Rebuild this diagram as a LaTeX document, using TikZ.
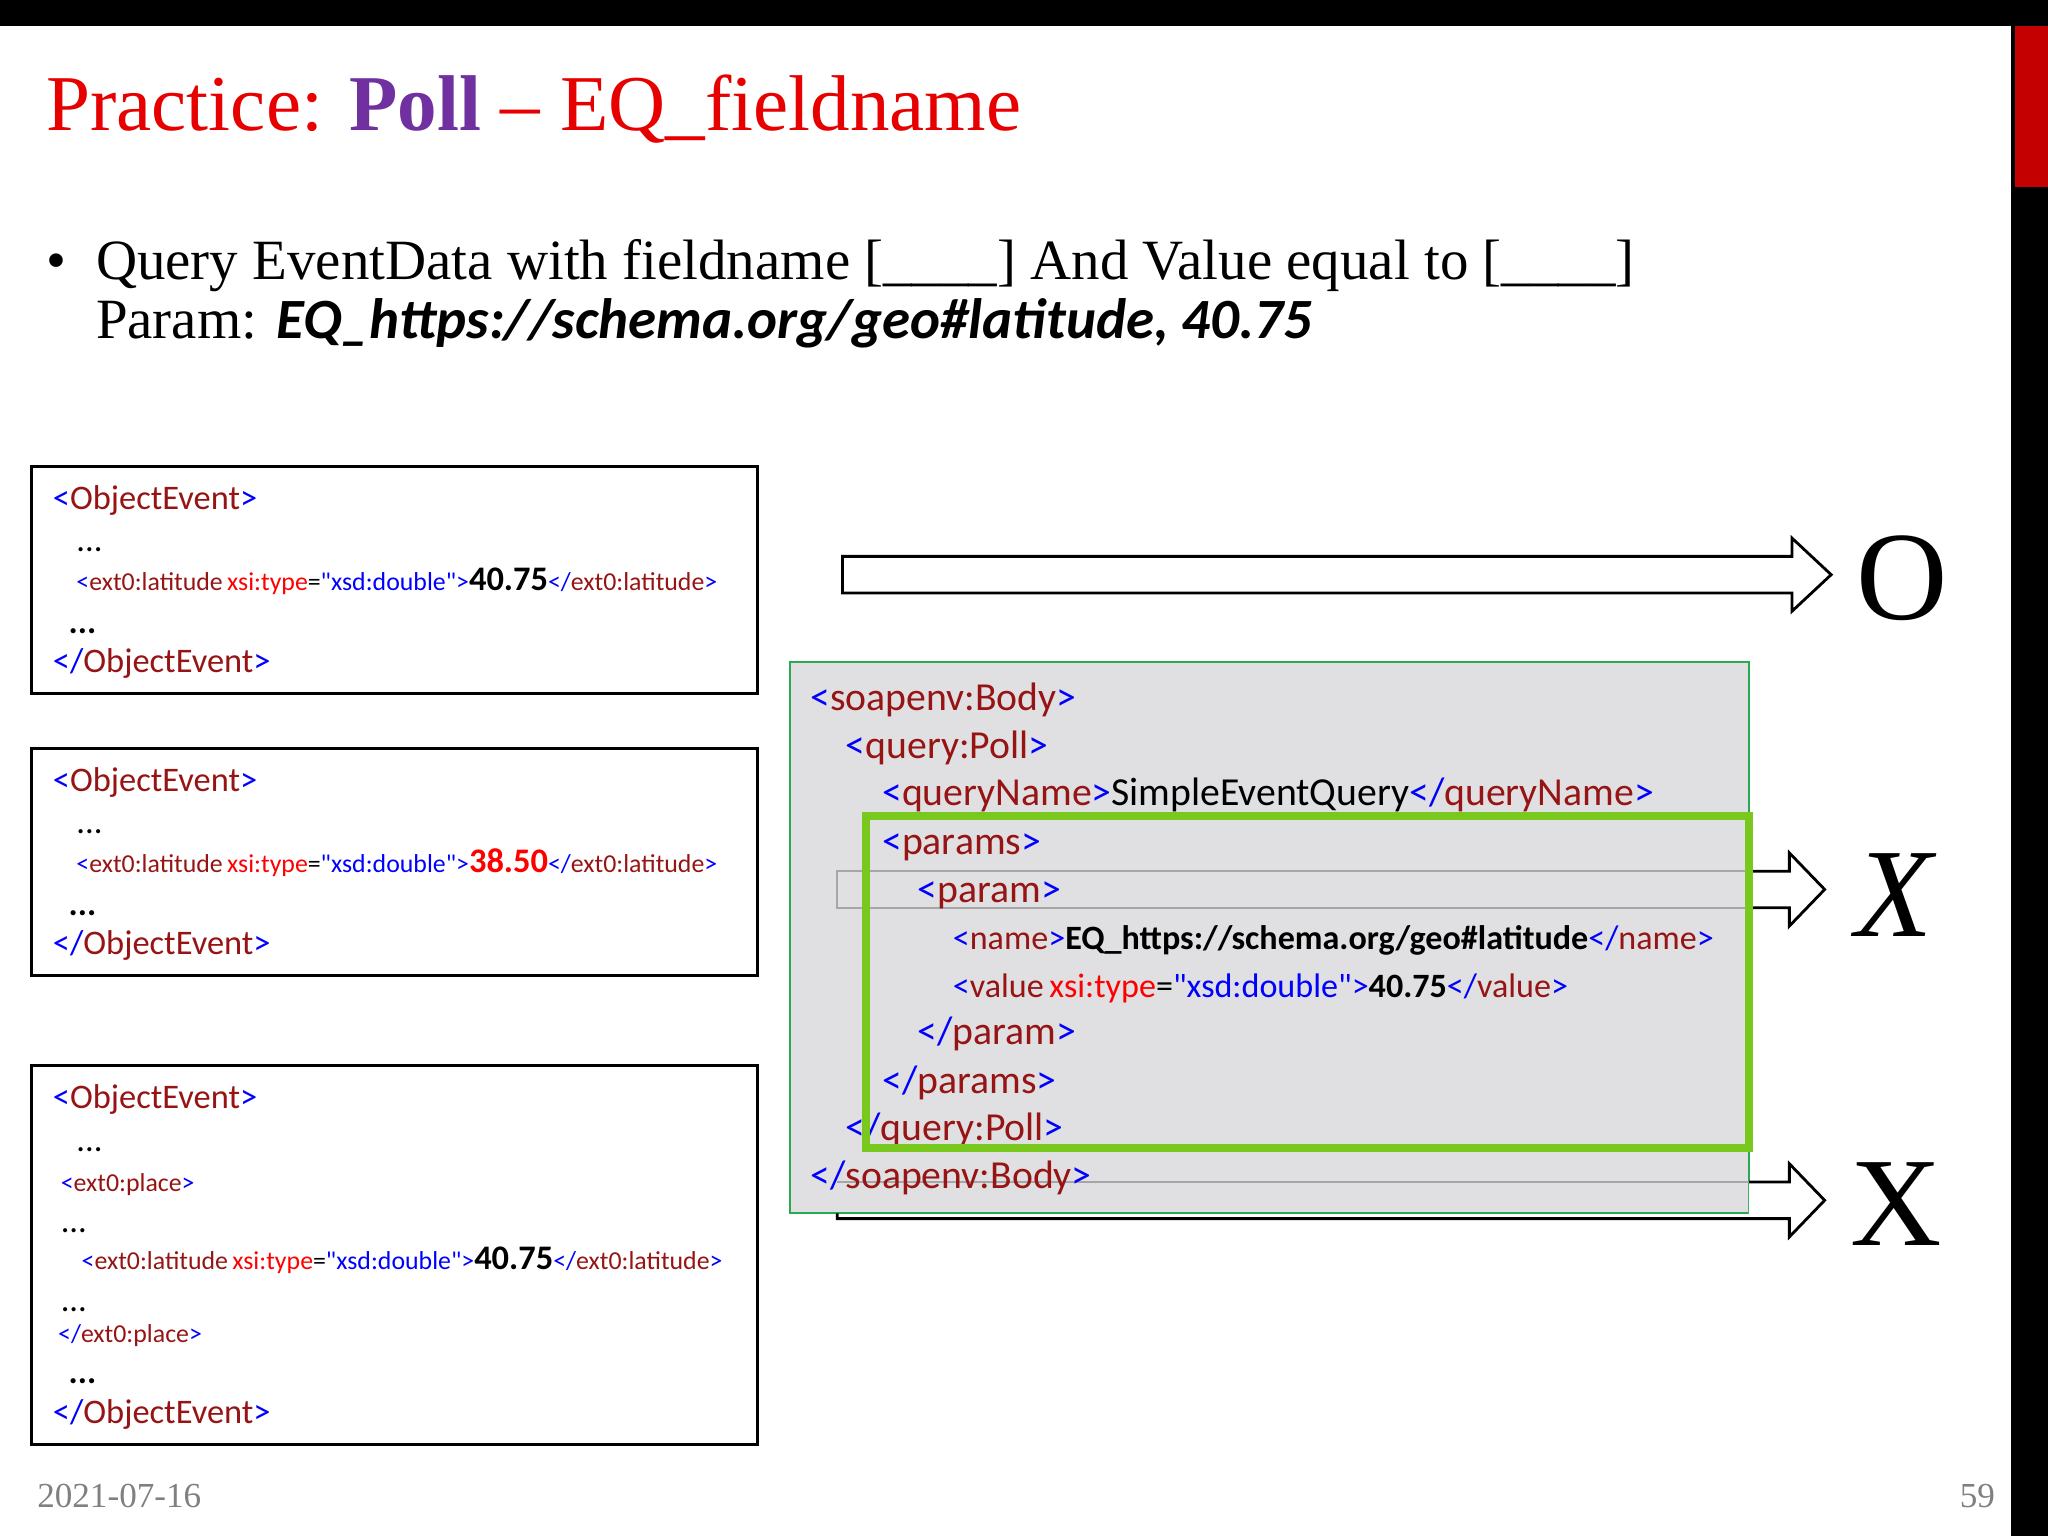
\documentclass[tikz,border=0pt]{standalone}
\usepackage{fontspec}
\setmainfont{Liberation Serif}
\newfontfamily\calf{Carlito}
\definecolor{tagc}{RGB}{150,20,20}
\definecolor{bl}{RGB}{0,0,255}
\definecolor{att}{RGB}{255,0,0}
\definecolor{titr}{RGB}{230,0,0}
\definecolor{purp}{RGB}{112,48,160}
\definecolor{gbox}{RGB}{224,224,226}
\definecolor{gline}{RGB}{40,170,80}
\definecolor{lime}{RGB}{120,200,30}
\newcommand{\tg}[1]{{\color{bl}<}{\color{tagc}#1}{\color{bl}>}}
\newcommand{\etg}[1]{{\color{bl}</}{\color{tagc}#1}{\color{bl}>}}
\newcommand{\lat}[1]{{\color{bl}<}{\color{tagc}ext0:latitude}\,{\color{att}xsi:type}={\color{bl}"xsd:double"}{\color{bl}>}#1{\color{bl}</}{\color{tagc}ext0:latitude}{\color{bl}>}}
\begin{document}
\begin{tikzpicture}[x=0.01306cm,y=-0.01306cm,
  t/.style={anchor=base west,inner sep=0pt,font=\calf\fontsize{9.8}{11}\selectfont},
  ts/.style={anchor=base west,inner sep=0pt,font=\calf\fontsize{7.35}{8}\selectfont},
  tb/.style={anchor=base west,inner sep=0pt,font=\calf\fontsize{11.3}{13}\selectfont},
  evbox/.style={draw,line width=0.8pt},
  harrow/.style={draw,line width=0.8pt,fill=white}]
\useasboundingbox (0,0) rectangle (1568,1176);
\fill (0,0) rectangle (1568,20);
\fill (1540,20) rectangle (1568,1176);
\fill[titr!85!black] (1543,20) rectangle (1568,143);
% title
\node[anchor=base west,inner sep=0pt,font=\fontsize{22.5}{26}\selectfont] (title) at (35,100)
 {\color{titr}Practice: {\color{purp}\bfseries Poll} – EQ\_fieldname};
\node[anchor=base west,inner sep=0pt,font=\fontsize{16.2}{20}\selectfont] (bul) at (35,214) {•};
\node[anchor=base west,inner sep=0pt,font=\fontsize{16.2}{20}\selectfont] (bul2) at (73,214)
 {Query EventData with fieldname [\_\_\_\_] And Value equal to [\_\_\_\_]};
\node[anchor=base west,inner sep=0pt,font=\fontsize{16.2}{20}\selectfont] (par) at (73,259)
 {Param: {\calf\bfseries\itshape\fontsize{16.2}{20}\selectfont EQ\_https://schema.org/geo\#latitude, 40.75}};
% boxes
\draw[evbox] (24,357) rectangle (580,531);
\node[t] (a1) at (40,390) {\tg{ObjectEvent}};
\node[t] (a2) at (58,422) {...};
\node[ts] (a3) at (58,452) {\lat{\textbf{\fontsize{9.8}{10}\selectfont 40.75}}};
\node[t] (a4) at (52,485) {\textbf{...}};
\node[t] (a5) at (40,515) {\etg{ObjectEvent}};
\draw[evbox] (24,573) rectangle (580,747);
\node[t] (b1) at (40,606) {\tg{ObjectEvent}};
\node[t] (b2) at (58,638) {...};
\node[ts] (b3) at (58,668) {\lat{\textbf{\fontsize{9.8}{10}\selectfont\color{att}38.50}}};
\node[t] (b4) at (52,701) {\textbf{...}};
\node[t] (b5) at (40,731) {\etg{ObjectEvent}};
\draw[evbox] (24,816) rectangle (580,1106);
\node[t] (c1) at (40,849) {\tg{ObjectEvent}};
\node[t] (c2) at (58,882) {...};
\node[ts] (c3) at (46,912) {\tg{ext0:place}};
\node[t] (c4) at (46,944) {...};
\node[ts] (c5) at (62,972) {\lat{\textbf{\fontsize{9.8}{10}\selectfont 40.75}}};
\node[t] (c6) at (46,1004) {...};
\node[ts] (c7) at (44,1028) {\etg{ext0:place}};
\node[t] (c8) at (52,1059) {\textbf{...}};
\node[t] (c9) at (40,1090) {\etg{ObjectEvent}};
% arrows
\draw[harrow] (645,426) -- (1372,426) -- (1372,412) -- (1402,440) -- (1372,468) -- (1372,454) -- (645,454) -- cycle;
\node[anchor=center,font=\fontsize{36}{40}\selectfont] (o) at (1456,443) {O};
% gray box
\draw[gline,fill=gbox,line width=0.6pt] (605,507) rectangle (1339,929);
\draw[harrow] (1339,667) -- (1370,667) -- (1370,653) -- (1397,681) -- (1370,709) -- (1370,695) -- (1339,695);
\draw[gray!70,line width=0.6pt] (1339,667) -- (641,667) -- (641,695) -- (1339,695);
\fill[white] (1339,905) -- (1370,905) -- (1370,891) -- (1397,919) -- (1370,947) -- (1370,933) -- (1339,933) -- cycle;
\draw[line width=0.8pt] (1339,905) -- (1370,905) -- (1370,891) -- (1397,919) -- (1370,947) -- (1370,933) -- (641,933) -- (641,929);
\draw[gray!70,line width=0.6pt] (641,905) -- (1339,905);
\node[tb] (s1) at (620,544) {\tg{soapenv:Body}};
\node[tb] (s2) at (647,581) {\tg{query:Poll}};
\node[tb] (s3) at (675,617) {\tg{queryName}\color{black}SimpleEventQuery\etg{queryName}};
\node[tb] (s4) at (675,654) {\tg{params}};
\node[tb] (s5) at (702,691) {\tg{param}};
\node[tb,font=\calf\fontsize{9.7}{12}\selectfont] (s6) at (729,727) {\tg{name}\textbf{EQ\_https://schema.org/geo\#latitude}\etg{name}};
\node[tb,font=\calf\fontsize{9.7}{12}\selectfont] (s7) at (729,764) {{\color{bl}<}{\color{tagc}value}\,{\color{att}xsi:type}={\color{bl}"xsd:double"}{\color{bl}>}\textbf{40.75}\etg{value}};
\node[tb] (s8) at (702,800) {\etg{param}};
\node[tb] (s9) at (675,837) {\etg{params}};
\node[tb] (s10) at (647,873) {\etg{query:Poll}};
\node[tb] (s11) at (620,910) {\etg{soapenv:Body}};
\draw[lime,line width=2.2pt] (663,625) rectangle (1339,879);
\node[anchor=center,font=\itshape\fontsize{36}{40}\selectfont] (x1) at (1450,685) {X};
\node[anchor=center,font=\fontsize{36}{40}\selectfont] (x2) at (1452,922) {X};
% footer
\node[anchor=base west,inner sep=0pt,text=gray,font=\fontsize{10}{12}\selectfont] (d) at (28,1154) {2021-07-16};
\node[anchor=base east,inner sep=0pt,text=gray,font=\fontsize{10}{12}\selectfont] (n) at (1528,1154) {59};
\end{tikzpicture}
\end{document}
